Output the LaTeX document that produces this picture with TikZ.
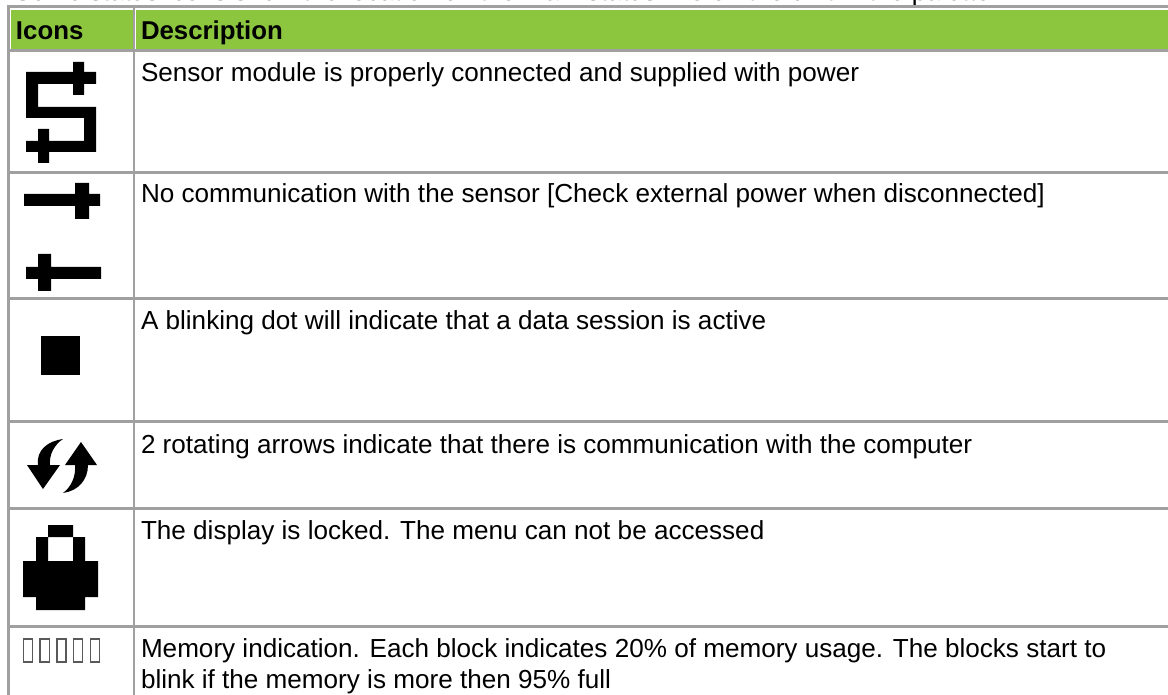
\documentclass[tikz,border=0pt]{standalone}
\usepackage{fontspec}
\setmainfont{Liberation Sans}
\definecolor{hdr}{HTML}{8CC63F}
\definecolor{rule}{HTML}{A0A0A0}
\tikzset{
 x=1pt,y=-1pt,
 cell/.style={anchor=base west,inner sep=0pt,outer sep=0pt,text=black,font=\fontsize{26.1}{30}\selectfont},
 head/.style={cell,font=\fontsize{25.8}{30}\selectfont\bfseries},
 grid/.style={draw=rule,line width=2.2pt},
 ico/.style={fill=black,draw=none},
 mem/.style={draw=black!65,line width=1.2pt,fill=white},
}
\begin{document}
\begin{tikzpicture}
\useasboundingbox (0,0) rectangle (1168,695);
\clip (0,0) rectangle (1168,695);
\fill[white] (0,0) rectangle (1168,695);
% clipped line above the table
\node[cell] (intro) at (14,0.7) {Some status icons show the location on the main status line on the unit in the palette};
% header
\fill[hdr] (11,10) rectangle (132.5,49);
\fill[hdr] (136,10) rectangle (1168,49);
\draw[draw=rule,line width=3pt] (1168,6.5) -- (8.5,6.5) -- (8.5,695);
\draw[draw=rule!70,line width=1pt] (11,51.5) -- (1168,51.5);
% grid
\draw[grid] (134,5) -- (134,695);
\draw[grid] (10,50.5) -- (1168,50.5);
\draw[grid] (10,172.5) -- (1168,172.5);
\draw[grid] (10,298.5) -- (1168,298.5);
\draw[grid] (10,421.5) -- (1168,421.5);
\draw[grid] (10,508.5) -- (1168,508.5);
\draw[grid] (10,626.5) -- (1168,626.5);
% text
\node[head] (h1) at (16,40) {Icons};
\node[head] (h2) at (141,40) {Description};
\node[cell] (t1) at (141,81.7) {Sensor module is properly connected and supplied with power};
\node[cell] (t2) at (141,203) {No communication with the sensor [Check external power when disconnected]};
\node[cell] (t3) at (141,330) {A blinking dot will indicate that a data session is active};
\node[cell] (t4) at (141,453) {2 rotating arrows indicate that there is communication with the computer};
\node[cell] (t5) at (141,539) {The display is locked. The menu can not be accessed};
\node[cell] (t6a) at (141,657) {Memory indication. Each block indicates 20\% of memory usage. The blocks start to};
\node[cell] (t6b) at (141,688.5) {blink if the memory is more then 95\% full};
% icon 1
\fill[ico] (26,72) -- (73,72) -- (73,62) -- (84,62) -- (84,72) -- (96,72) -- (96,84) -- (84,84) -- (84,95) -- (73,95) -- (73,84) -- (38,84) -- (38,107) -- (96,107) -- (96,152) -- (49,152) -- (49,163) -- (38,163) -- (38,152) -- (26,152) -- (26,141) -- (38,141) -- (38,129) -- (49,129) -- (49,141) -- (84,141) -- (84,118) -- (26,118) -- cycle;
% icon 2
\fill[ico] (24,194) -- (75,194) -- (75,183) -- (89,183) -- (89,194) -- (100,194) -- (100,206) -- (89,206) -- (89,219) -- (75,219) -- (75,206) -- (24,206) -- cycle;
\fill[ico] (26,267) -- (38,267) -- (38,254) -- (51,254) -- (51,267) -- (101,267) -- (101,279) -- (51,279) -- (51,291) -- (38,291) -- (38,279) -- (26,279) -- cycle;
% dot
\fill[ico] (41,336) rectangle (80,375);
% rotating arrows
\fill[ico] (63,439) .. controls (48,441) and (36,450) .. (38,465) -- (27,465) -- (43,489) -- (60,465) -- (50,465) .. controls (49,455) and (54,445) .. (63,439) -- cycle;
\fill[ico] (81,442) -- (97,465) -- (88,465) .. controls (88,480) and (78,491) .. (63,493) .. controls (71,487) and (76,477) .. (75,465) -- (65,465) -- cycle;
% lock
\fill[ico,even odd rule] (48,525) -- (73,525) -- (73,537) -- (85,537) -- (85,561) -- (98,561) -- (98,597) -- (85,597) -- (85,610) -- (36,610) -- (36,597) -- (23,597) -- (23,561) -- (36,561) -- (36,537) -- (48,537) -- cycle (48,537) rectangle (73,561);
% memory blocks
\draw[mem] (23.2,639) rectangle (32.5,662);
\draw[mem] (40,639) rectangle (49.3,662);
\draw[mem] (57,639) rectangle (66,662);
\draw[mem] (73.7,639) rectangle (82.7,662);
\draw[mem] (90.5,639) rectangle (99.5,662);
\end{tikzpicture}
\end{document}
